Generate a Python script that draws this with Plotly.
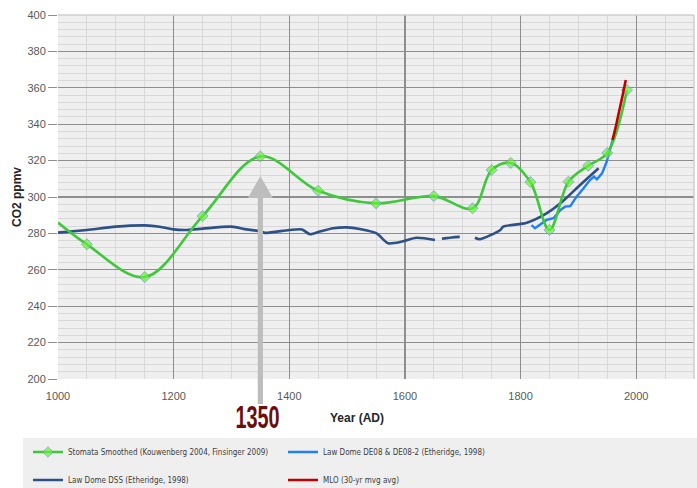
import plotly.graph_objects as go

# ---------------- data ----------------
STOMATA_YEARS = [1000, 1050, 1150, 1250, 1350, 1450, 1550, 1650, 1717, 1750, 1783, 1817, 1850, 1883, 1917, 1950, 1984]
STOMATA_CO2 = [286.0, 274.0, 256.0, 289.5, 322.3, 303.4, 296.5, 300.5, 293.8, 314.8, 318.7, 308.2, 281.9, 308.4, 317.2, 324.2, 358.8]
STOMATA_HAS_MARKER = [False] + [True] * 16

DSS_YEARS_A = [1000, 1050, 1100, 1150, 1176, 1200, 1223, 1250, 1300, 1326, 1350, 1358, 1400, 1422, 1436, 1453,
               1476, 1500, 1522, 1551, 1571, 1595, 1620, 1652]
DSS_CO2_A = [280.4, 281.9, 283.7, 284.4, 283.7, 282.2, 281.9, 282.6, 283.7, 282.2, 281.2, 280.3, 281.9, 282.2,
             279.5, 281.0, 282.8, 283.3, 282.4, 280.0, 274.6, 275.5, 277.6, 276.4]
DSS_YEARS_GAP = [1652, 1672, 1695, 1721]
DSS_CO2_GAP = [276.4, 277.4, 278.1, 277.6]
DSS_YEARS_B = [1721, 1730, 1765, 1770, 1811, 1845, 1869, 1903, 1935]
DSS_CO2_B = [277.6, 276.8, 281.9, 283.7, 285.9, 291.0, 296.5, 306.6, 315.8]

DE08_YEARS = [1819, 1825, 1845, 1857, 1869, 1877, 1886, 1897, 1909, 1920, 1927, 1932, 1941, 1949, 1956, 1961]
DE08_CO2 = [284.6, 282.8, 287.4, 288.3, 292.9, 294.7, 295.0, 300.2, 304.8, 309.3, 311.2, 309.7, 313.0, 319.4, 327.6, 333.1]

MLO_YEARS = [1959, 1965, 1971, 1976, 1982]
MLO_CO2 = [331.3, 339.0, 347.8, 355.0, 364.3]

X_TICKS = [1000, 1200, 1400, 1600, 1800, 2000]
Y_TICKS = [200, 220, 240, 260, 280, 300, 320, 340, 360, 380, 400]
X_RANGE = [1000, 2100]
Y_RANGE = [200, 400]
ARROW_YEAR = 1350

# ---------------- layout geometry ----------------
W, H = 697, 488
ML, MR, MT, MB = 58, 3, 15, 109
PW = W - ML - MR
PH = H - MT - MB


def py(pix):
    """pixel row -> paper y"""
    return (H - MB - pix) / PH


def px(pix):
    return (pix - ML) / PW


def year_to_paper(yr):
    return (yr - X_RANGE[0]) / (X_RANGE[1] - X_RANGE[0])


fig = go.Figure()

fig.add_trace(go.Scatter(
    x=DSS_YEARS_A + [None] + DSS_YEARS_B,
    y=DSS_CO2_A + [None] + DSS_CO2_B,
    mode="lines", line=dict(color="#2d5186", width=2.6, shape="spline", smoothing=0.7),
    name="Law Dome DSS (Etheridge, 1998)", legend="legend2", legendrank=1,
    connectgaps=False, hoverinfo="skip"))
fig.add_trace(go.Scatter(
    x=DSS_YEARS_GAP, y=DSS_CO2_GAP, mode="lines",
    line=dict(color="#2d5186", width=2.6, shape="spline", dash="0px,7px,18px,30px"),
    showlegend=False, hoverinfo="skip"))
fig.add_trace(go.Scatter(
    x=DE08_YEARS, y=DE08_CO2, mode="lines",
    line=dict(color="#1f7ff5", width=2.4),
    name="Law Dome DE08 & DE08-2 (Etheridge, 1998)", legend="legend", legendrank=2, hoverinfo="skip"))
fig.add_trace(go.Scatter(
    x=STOMATA_YEARS, y=STOMATA_CO2, mode="lines+markers",
    line=dict(color="#3ec83a", width=2.6, shape="spline", smoothing=1.0),
    marker=dict(symbol="diamond", size=[8.5 if m else 0 for m in STOMATA_HAS_MARKER],
                color="#66f23a", line=dict(color="#6b93b8", width=1)),
    name="Stomata Smoothed (Kouwenberg 2004, Finsinger 2009)", legend="legend", legendrank=1, hoverinfo="skip"))
fig.add_trace(go.Scatter(
    x=MLO_YEARS, y=MLO_CO2, mode="lines",
    line=dict(color="#c00000", width=2.6, shape="spline"),
    name="MLO (30-yr mvg avg)", legend="legend2", legendrank=2, hoverinfo="skip"))

tick_font = dict(family="Liberation Sans, Arial, sans-serif", size=11, color="#595959")
fig.update_xaxes(range=X_RANGE, tickvals=X_TICKS, ticktext=[str(v) for v in X_TICKS],
                 showgrid=True, gridcolor="#8e8e8e", gridwidth=1.3,
                 minor=dict(dtick=50, tick0=1000, showgrid=True, gridcolor="#d8d8d8", gridwidth=1),
                 ticks="outside", ticklen=7, tickcolor="rgba(0,0,0,0)", automargin=False,
                 zeroline=False, showline=False, tickfont=tick_font, fixedrange=True)
fig.update_yaxes(range=Y_RANGE, tickvals=Y_TICKS, ticktext=[str(v) for v in Y_TICKS],
                 showgrid=True, gridcolor="#8e8e8e", gridwidth=1.3,
                 minor=dict(dtick=4, tick0=200, showgrid=True, gridcolor="#d8d8d8", gridwidth=1),
                 ticks="outside", ticklen=9, tickcolor="#8e8e8e", tickwidth=1, automargin=False,
                 zeroline=False, showline=False, tickfont=tick_font, fixedrange=True)

shapes = []
# light border top and right
shapes.append(dict(type="line", xref="paper", yref="paper", x0=0, x1=1, y0=1, y1=1,
                   line=dict(color="#cfcfcf", width=1.5)))
shapes.append(dict(type="line", xref="paper", yref="paper", x0=1, x1=1, y0=0, y1=1,
                   line=dict(color="#cfcfcf", width=1.5)))
# legend box
shapes.append(dict(type="rect", xref="paper", yref="paper", x0=px(23), x1=px(W + 2), y0=py(H + 2), y1=py(438),
                   fillcolor="#efefef", line=dict(width=0), layer="below"))
# arrow (annotation graphic)
xa = year_to_paper(ARROW_YEAR)
shaft_half = 2.6 / PW
head_half = 12.5 / PW
y_tip, y_base, y_bot = py(176), py(198), py(404)
shapes.append(dict(type="path", xref="paper", yref="paper",
                   path=(f"M {xa - shaft_half},{y_bot} L {xa - shaft_half},{y_base} L {xa - head_half},{y_base} "
                         f"L {xa},{y_tip} L {xa + head_half},{y_base} L {xa + shaft_half},{y_base} "
                         f"L {xa + shaft_half},{y_bot} Z"),
                   fillcolor="#bdbdbd", line=dict(width=0), layer="above"))

annotations = [
    dict(text="<b>1350</b>", x=ARROW_YEAR, xref="x", y=py(417), yref="paper", showarrow=False,
         xanchor="center", yanchor="middle", xshift=-3,
         font=dict(family="Liberation Sans, Arial, sans-serif", size=31, color="#6a0e0e")),
    dict(text="<b>Year (AD)</b>", x=px(357), xref="paper", y=py(418), yref="paper", showarrow=False,
         xanchor="center", yanchor="middle",
         font=dict(family="Liberation Sans, Arial, sans-serif", size=12, color="#262626")),
    dict(text="<b>CO2 ppmv</b>", x=px(17), xref="paper", y=py(197), yref="paper", showarrow=False,
         xanchor="center", yanchor="middle", textangle=-90,
         font=dict(family="Liberation Sans, Arial, sans-serif", size=12, color="#262626")),
]

leg_font = dict(family="DejaVu Sans Condensed, Liberation Sans, sans-serif", size=8, color="#404040")
legend_common = dict(orientation="h", xanchor="left", yanchor="middle", x=px(28),
                     bgcolor="rgba(0,0,0,0)", font=leg_font, entrywidth=210, entrywidthmode="pixels",
                     itemwidth=30, traceorder="normal")

fig.update_layout(
    width=W, height=H, margin=dict(l=ML, r=MR, t=MT, b=MB, pad=0, autoexpand=False),
    paper_bgcolor="white", plot_bgcolor="#efefef",
    shapes=shapes, annotations=annotations, showlegend=True,
    legend=dict(y=py(452), **legend_common),
    legend2=dict(y=py(480), **legend_common),
    hovermode=False,
)

# remove the default page margin and condense the big "1350" label horizontally (it stays real text)
post = """
document.body.style.margin = '0';
document.body.style.overflow = 'hidden';
var texts = document.querySelectorAll('.annotation-text');
texts.forEach(function(t){
  if (t.textContent.trim() === '1350') {
    t.style.transformBox = 'fill-box';
    t.style.transformOrigin = 'center';
    t.style.transform = 'scaleX(0.64)';
  }
});
"""

fig.write_html("out.html", post_script=post, config={"displayModeBar": False, "staticPlot": True})
